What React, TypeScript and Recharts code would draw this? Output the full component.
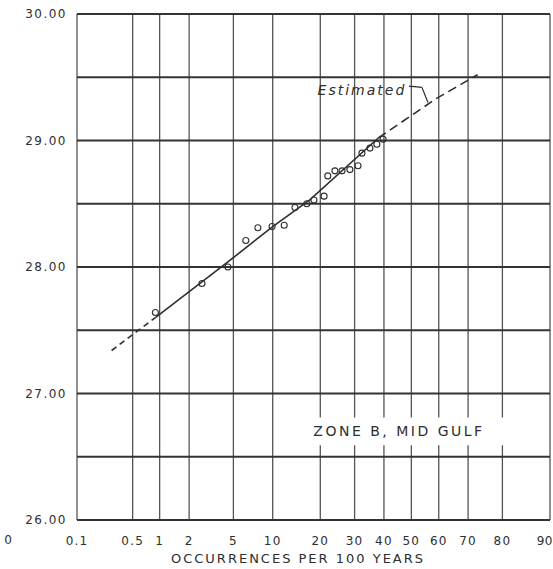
import React from 'react';
import {
  CartesianGrid,
  ComposedChart,
  Line,
  ReferenceArea,
  ReferenceDot,
  ReferenceLine,
  Scatter,
  XAxis,
  YAxis,
} from 'recharts';

// x axis is a normal probability scale, values in % (occurrences per 100 years)
const xTicks = [0.1, 0.5, 1, 2, 5, 10, 20, 30, 40, 50, 60, 70, 80, 90];
const xTickLabels = ['0.1', '0.5', '1', '2', '5', '10', '20', '30', '40', '50', '60', '70', '80', '90'];
const yTicks = [26, 26.5, 27, 27.5, 28, 28.5, 29, 29.5, 30];

// observed points
const obsOccurrence = [0.9, 2.65, 4.5, 6.3, 7.8, 9.9, 12, 14.1, 16.7, 18.4, 21, 22, 24, 26.1, 28.5, 31.1, 32.4, 35.1, 37.5, 39.7];
const obsPressure = [27.64, 27.87, 28.0, 28.21, 28.31, 28.32, 28.33, 28.47, 28.5, 28.53, 28.56, 28.72, 28.76, 28.76, 28.77, 28.8, 28.9, 28.94, 28.97, 29.01];

// fitted curve: dashed lower tail, solid middle, dashed "estimated" upper part
const fitLowOccurrence = [0.28, 0.9];
const fitLowPressure = [27.34, 27.6];
const fitOccurrence = [0.9, 4.5, 10, 17.4, 38];
const fitPressure = [27.6, 28.04, 28.32, 28.53, 29.02];
const estOccurrence = [38, 59, 73];
const estPressure = [29.02, 29.33, 29.52];

// inverse normal cdf (Acklam) -> maps % onto the probability axis
const probit = (pct: number) => {
  const p = pct / 100;
  const a = [-39.69683028665376, 220.9460984245205, -275.9285104469687, 138.357751867269, -30.66479806614716, 2.506628277459239];
  const b = [-54.47609879822406, 161.5858368580409, -155.6989798598866, 66.80131188771972, -13.28068155288572];
  const c = [-0.007784894002430293, -0.3223964580411365, -2.400758277161838, -2.549732539343734, 4.374664141464968, 2.938163982698783];
  const d = [0.007784695709041462, 0.3224671290700398, 2.445134137142996, 3.754408661907416];
  const tail = (q: number) =>
    (((((c[0] * q + c[1]) * q + c[2]) * q + c[3]) * q + c[4]) * q + c[5]) /
    ((((d[0] * q + d[1]) * q + d[2]) * q + d[3]) * q + 1);
  if (p < 0.02425) return tail(Math.sqrt(-2 * Math.log(p)));
  if (p > 1 - 0.02425) return -tail(Math.sqrt(-2 * Math.log(1 - p)));
  const q = p - 0.5;
  const r = q * q;
  return (
    ((((((a[0] * r + a[1]) * r + a[2]) * r + a[3]) * r + a[4]) * r + a[5]) * q) /
    (((((b[0] * r + b[1]) * r + b[2]) * r + b[3]) * r + b[4]) * r + 1)
  );
};

const toRows = (xs: number[], ys: number[]) => xs.map((x, i) => ({ z: probit(x), v: ys[i] }));

const observed = toRows(obsOccurrence, obsPressure);
const fitLow = toRows(fitLowOccurrence, fitLowPressure);
const fit = toRows(fitOccurrence, fitPressure);
const estimated = toRows(estOccurrence, estPressure);
const zTicks = xTicks.map(probit);

const ink = '#2e2e2e';
const font = '"DejaVu Sans", sans-serif';

const OpenCircle = (props: any) => (
  <circle cx={props.cx} cy={props.cy} r={3} fill="none" stroke={ink} strokeWidth={1.1} />
);

// last label sits on the page edge, keep it inside
const XTick = (props: any) => {
  const last = props.index === xTickLabels.length - 1;
  return (
    <text
      x={last ? 553 : props.x}
      y={props.y}
      dy="0.71em"
      textAnchor={last ? 'end' : 'middle'}
      fill={ink}
      fontSize={12}
      fontFamily={font}
      letterSpacing={last ? 0.5 : 1.2}
    >
      {xTickLabels[props.index]}
    </text>
  );
};

const App = () => (
  <div style={{ position: 'absolute', left: 0, top: 0, background: '#fff' }}>
    <ComposedChart width={553} height={569} margin={{ top: 14, right: 3, bottom: 0, left: 0 }}>
      <CartesianGrid horizontal={false} stroke="#555" strokeWidth={1.3} />
      <CartesianGrid vertical={false} stroke="#333" strokeWidth={1.8} />
      <XAxis
        type="number"
        dataKey="z"
        domain={[zTicks[0], zTicks[zTicks.length - 1]]}
        ticks={zTicks}
        interval={0}
        allowDataOverflow
        height={49}
        axisLine={false}
        tickLine={false}
        tickSize={6}
        tickMargin={10}
        tick={<XTick />}
      />
      <YAxis
        type="number"
        dataKey="v"
        domain={[26, 30]}
        ticks={yTicks}
        interval={0}
        width={77}
        axisLine={false}
        tickLine={false}
        tickSize={6}
        tickMargin={4}
        tickFormatter={(v: number) => (Number.isInteger(v) ? v.toFixed(2) : '')}
        tick={{ fill: ink, fontSize: 12, fontFamily: font, letterSpacing: 1.5 }}
      />
      <ReferenceArea
        x1={probit(13.1)}
        x2={probit(81.4)}
        y1={26.59}
        y2={26.81}
        fill="#fff"
        fillOpacity={1}
        stroke="none"
        label={{ value: 'ZONE B, MID GULF', position: 'center', fill: ink, fontSize: 14, fontFamily: font, letterSpacing: 2.5 }}
      />
      <Line data={fitLow} dataKey="v" stroke={ink} strokeWidth={1.6} strokeDasharray="6 4" dot={false} isAnimationActive={false} />
      <Line data={fit} dataKey="v" stroke={ink} strokeWidth={1.6} dot={false} isAnimationActive={false} />
      <Line data={estimated} dataKey="v" stroke={ink} strokeWidth={1.6} strokeDasharray="9 5" dot={false} isAnimationActive={false} />
      <Scatter data={observed} dataKey="v" shape={OpenCircle} isAnimationActive={false} />
      <ReferenceDot
        x={probit(32.4)}
        y={29.4}
        r={1}
        fill="none"
        stroke="none"
        label={{ value: 'Estimated', position: 'center', fill: ink, fontSize: 14, fontStyle: 'italic', fontFamily: font, letterSpacing: 2 }}
      />
      <ReferenceLine segment={[{ x: probit(49.1), y: 29.43 }, { x: probit(53.9), y: 29.42 }]} stroke={ink} strokeWidth={1.2} />
      <ReferenceLine segment={[{ x: probit(53.9), y: 29.42 }, { x: probit(56.1), y: 29.3 }]} stroke={ink} strokeWidth={1.2} />
      <text x={8} y={544} textAnchor="middle" fill={ink} fontSize={12} fontFamily={font}>
        0
      </text>
      <text x={298} y={563} textAnchor="middle" fill={ink} fontSize={13} fontFamily={font} letterSpacing={2}>
        OCCURRENCES PER 100 YEARS
      </text>
    </ComposedChart>
  </div>
);

export default App;
